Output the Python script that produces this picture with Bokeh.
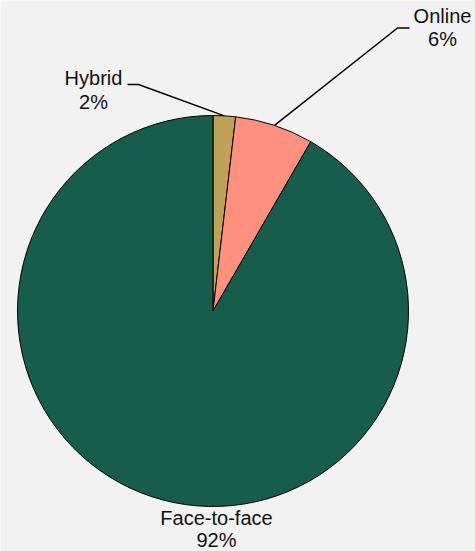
import math
from bokeh.plotting import figure
from bokeh.models import Range1d
from bokeh.core.properties import value
from bokeh.embed import file_html
from bokeh.resources import INLINE

# Delivery mode counts
categories = ["Hybrid", "Online", "Face-to-face"]
counts = [2, 7, 99]
colors = ["#bfa258", "#fd917d", "#165e4b"]

W, H = 475, 551
p = figure(width=W, height=H, output_backend="svg", toolbar_location=None,
           x_range=Range1d(0, W), y_range=Range1d(0, H), min_border=0)
p.axis.visible = False
p.grid.visible = False
p.outline_line_color = None
p.background_fill_color = "#f2f2f2"
p.border_fill_color = "#f2f2f2"

cx, cy, r = 212.5, H - 310.5, 195.5
total = sum(counts)
fracs = [c / total for c in counts]

starts, ends, mids = [], [], []
cum = 0.0
for f in fracs:
    a0 = math.pi / 2 - cum * 2 * math.pi
    cum += f
    a1 = math.pi / 2 - cum * 2 * math.pi
    starts.append(a0)
    ends.append(a1)
    mids.append((a0 + a1) / 2)

p.wedge(x=[cx] * 3, y=[cy] * 3, radius=r, start_angle=starts, end_angle=ends,
        direction="clock", fill_color=colors, line_color="black", line_width=1)

pct = [f"{round(f * 100)}%" for f in fracs]

# leader lines: arc point -> elbow -> short horizontal
def leader(i, ex, ey, hx):
    ax = cx + r * math.cos(mids[i])
    ay = cy + r * math.sin(mids[i])
    p.line([ax, ex, hx], [ay, H - ey, H - ey], line_color="black", line_width=1.5)

leader(0, 138, 84, 127)
leader(1, 397, 27.5, 409)

font = value("Liberation Sans")
# label centres (x, first line y, second line y), measured from the top
label_pos = [(93, 77, 101), (442, 15, 38.5), (216, 517, 539.5)]
for i, (lx, y1, y2) in enumerate(label_pos):
    p.text(x=[lx, lx], y=[H - y1, H - y2], text=[categories[i], pct[i]],
           text_font=font, text_font_size="20px", text_align="center",
           text_baseline="middle", text_color="#111111")

open("out.html", "w").write(file_html(p, INLINE))
